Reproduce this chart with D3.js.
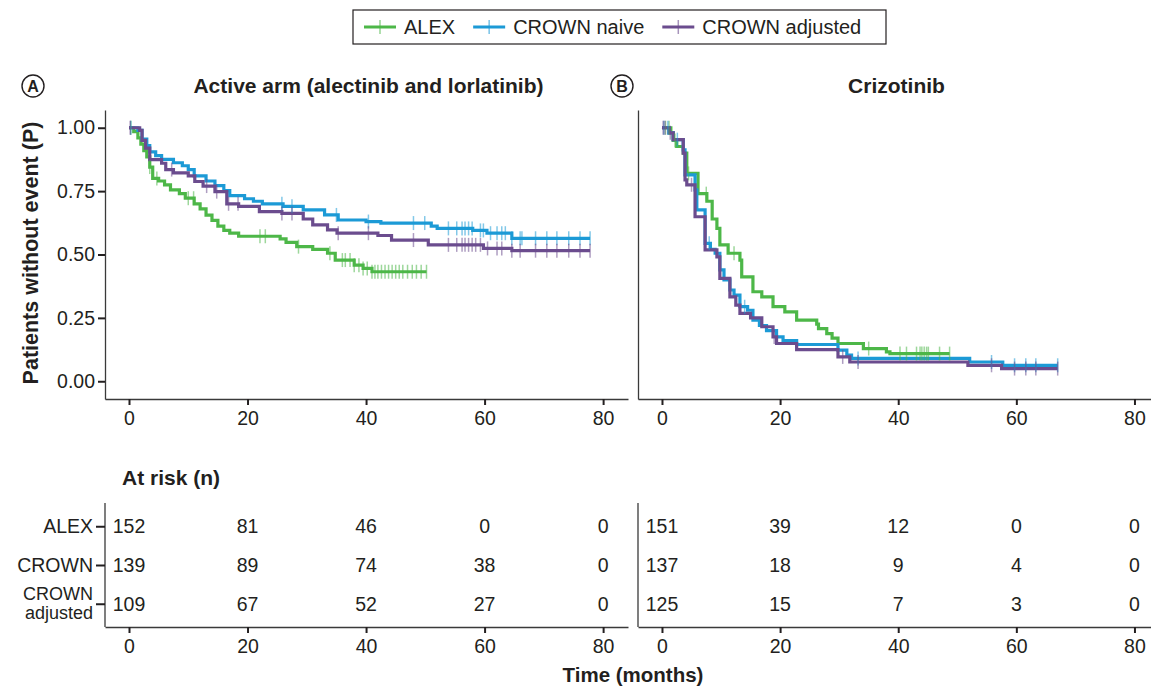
<!DOCTYPE html>
<html>
<head>
<meta charset="utf-8">
<script src="https://cdn.jsdelivr.net/npm/d3@7"></script>
<style>
  body { margin: 0; background: #fff; }
  text { font-family: "Liberation Sans", Arial, Helvetica, sans-serif; fill: #231f20; }
</style>
</head>
<body>
<div id="chart"></div>
<script>
// ---- data ----
const seriesNames = ["ALEX", "CROWN naive", "CROWN adjusted"];
const seriesColors = ["#4db748", "#1c9ad6", "#6b4c8e"];
const timeTicks = [0, 20, 40, 60, 80];
const survTicks = [0, 0.25, 0.5, 0.75, 1];
const riskRows = ["ALEX", "CROWN", "CROWN adjusted"];

// Kaplan-Meier steps [month, survival]; last pair marks end of follow-up
const activeAlex = [[0,1.00],[0.8,0.985],[1.5,0.96],[2,0.935],[2.5,0.91],[3,0.885],[3.5,0.845],[4,0.80],[5,0.79],[6,0.775],[7,0.755],[8.5,0.74],[9.5,0.722],[11,0.70],[12,0.68],[13,0.655],[14,0.635],[15,0.612],[16,0.595],[17,0.584],[18.5,0.572],[25.5,0.562],[26.5,0.548],[28.3,0.531],[31,0.52],[33.5,0.505],[34.8,0.478],[38,0.458],[39.5,0.445],[41,0.432],[50.2,0.432]];
const activeNaive = [[0,1.00],[1.5,0.99],[2.2,0.955],[3,0.93],[3.5,0.905],[4.5,0.89],[5.5,0.875],[7.5,0.862],[9,0.85],[10,0.835],[11,0.81],[13,0.79],[14.5,0.772],[16,0.752],[17,0.732],[19.5,0.72],[21,0.71],[22.5,0.70],[26,0.69],[29.4,0.676],[33,0.656],[35.3,0.636],[40,0.63],[42.5,0.624],[51,0.612],[52,0.603],[58,0.595],[60.4,0.584],[64.6,0.564],[77.8,0.564]];
const activeAdjusted = [[0,1.00],[1.8,0.99],[2.2,0.95],[2.8,0.92],[3.5,0.874],[5.5,0.86],[6.2,0.835],[7.5,0.822],[10,0.81],[11.1,0.788],[12.5,0.77],[14.5,0.748],[16.5,0.70],[18.5,0.69],[22,0.669],[25.8,0.662],[29.4,0.64],[31,0.617],[33.5,0.597],[35.1,0.584],[42,0.575],[44.3,0.557],[50.5,0.538],[59.8,0.524],[64.6,0.515],[77.8,0.515]];

const crizoAlex = [[0,1.00],[1.5,0.98],[1.9,0.95],[2.5,0.926],[3.6,0.90],[4.2,0.82],[6.1,0.74],[7.6,0.71],[8.5,0.64],[9.3,0.603],[9.8,0.538],[11.2,0.505],[13.2,0.478],[13.5,0.412],[15.4,0.353],[16.9,0.333],[18.8,0.294],[20.8,0.274],[22.8,0.241],[26.2,0.225],[26.5,0.208],[27.9,0.188],[28.8,0.17],[29.8,0.149],[34.1,0.129],[38,0.116],[38.6,0.109],[48.7,0.109]];
const crizoNaive = [[0,1.00],[1.2,0.98],[1.9,0.953],[3.6,0.913],[3.9,0.814],[5.6,0.755],[5.9,0.676],[7.3,0.544],[8.2,0.52],[9,0.505],[9.8,0.439],[10.5,0.40],[11.5,0.36],[12.2,0.34],[13.2,0.294],[14.5,0.28],[15.4,0.241],[16.5,0.22],[17.7,0.20],[19.4,0.175],[20.5,0.16],[22.8,0.145],[29.8,0.123],[31.3,0.103],[32.1,0.09],[52.1,0.076],[57.7,0.063],[67,0.063]];
const crizoAdjusted = [[0,1.00],[1.2,0.98],[1.9,0.953],[3.6,0.90],[3.9,0.794],[4.2,0.775],[5.6,0.649],[7.3,0.518],[9.3,0.491],[9.8,0.406],[11.5,0.333],[12.5,0.30],[13.2,0.268],[15,0.25],[16.9,0.215],[18.8,0.175],[19.4,0.149],[22.8,0.125],[29.8,0.096],[31.8,0.076],[51.8,0.063],[57.5,0.05],[67,0.05]];

// censoring times (months)
const activeAlexCensor = [0.3,3.5,4.7,10,10.9,22.1,23,28.6,33.9,36,36.5,37.3,38,38.8,39.5,40.2,41,41.5,42,42.6,43.2,43.8,44.4,45,45.6,46.2,47,47.8,48.5,49.3,50.2];
const activeNaiveCensor = [0.3,25.8,27.5,35,40.4,48,49.9,53.9,55.3,56.2,56.7,57.3,57.9,59.3,59.8,61,62.1,62.9,63.5,64.6,66,66.3,68.6,70.5,72.2,74.2,76.1,77.8];
const activeAdjustedCensor = [0.2,7.2,13.1,14.8,16.8,18.4,25.8,27.5,35.3,40.4,48,53.9,55.3,56.2,56.7,57.3,57.9,58.5,59.3,60.5,62.1,62.9,64.6,66,68.6,70.5,72.2,74.2,76.1,77.8];
const crizoAlexCensor = [0.6,1.2,2.2,4.5,7.5,12.2,35,40.3,41.4,43.1,43.7,44,44.4,44.8,45.1,47,48.7];
const crizoNaiveCensor = [0.3,1,2.6,8,14,33.2,55.8,59.7,61.6,63.3,67];
const crizoAdjustedCensor = [0.2,0.5,1.4,5,19,30.6,33.2,55.8,59.7,61.6,63.3,67];

// numbers at risk, rows follow riskRows, columns follow timeTicks
const riskActive = [[152,81,46,0,0],[139,89,74,38,0],[109,67,52,27,0]];
const riskCrizo = [[151,39,12,0,0],[137,18,9,4,0],[125,15,7,3,0]];

// ---- layout ----
const width = 1151, height = 689;
const plotTop = 110, plotBottom = 399;
const tableTop = 503, tableBottom = 627;
const boldSize = 21;

const panels = [
  {label: "A", badgeX: 33, title: "Active arm (alectinib and lorlatinib)",
   range: [105, 628], domain: [-4.05, 84.2],
   curves: [activeAlex, activeNaive, activeAdjusted],
   censors: [activeAlexCensor, activeNaiveCensor, activeAdjustedCensor],
   risk: riskActive, rowLabels: true},
  {label: "B", badgeX: 622, title: "Crizotinib",
   range: [638, 1151], domain: [-4.06, 82.8],
   curves: [crizoAlex, crizoNaive, crizoAdjusted],
   censors: [crizoAlexCensor, crizoNaiveCensor, crizoAdjustedCensor],
   risk: riskCrizo, rowLabels: false}
];

const svg = d3.select("#chart").append("svg")
  .attr("width", width)
  .attr("height", height);

svg.append("rect").attr("width", width).attr("height", height).attr("fill", "#fff");

const y = d3.scaleLinear().domain([-0.07, 1.07]).range([plotBottom, plotTop]);
const yRisk = d3.scalePoint().domain(riskRows).range([tableTop, tableBottom]).padding(0.6);

function survivalAt(steps, t){
  let s = steps[0][1];
  for (const p of steps){
    if (p[0] <= t) s = p[1]; else break;
  }
  return s;
}

function styleAxis(g){
  g.selectAll(".domain").attr("stroke", "#3a3a3a").attr("stroke-width", 1.3);
  g.selectAll(".tick line").attr("stroke", "#231f20").attr("stroke-width", 2);
  g.selectAll(".tick text").attr("font-size", 19.5).attr("fill", "#231f20")
    .attr("font-family", "'Liberation Sans', Arial, sans-serif");
}

panels.forEach((p, pi) => {
  const x = d3.scaleLinear().domain(p.domain).range(p.range);

  // badge + title
  const badge = svg.append("g").attr("transform", `translate(${p.badgeX},86)`);
  badge.append("circle").attr("r", 11).attr("fill", "none").attr("stroke", "#231f20").attr("stroke-width", 1.4);
  badge.append("text").attr("text-anchor", "middle").attr("dy", "0.37em")
    .attr("font-size", 16).attr("font-weight", "bold").text(p.label);

  svg.append("text")
    .attr("x", (p.range[0] + p.range[1]) / 2 + 2)
    .attr("y", 85).attr("dy", "0.36em")
    .attr("text-anchor", "middle")
    .attr("font-size", boldSize).attr("font-weight", "bold")
    .text(p.title);

  // survival axes
  const gx = svg.append("g").attr("transform", `translate(0,${plotBottom})`)
    .call(d3.axisBottom(x).tickValues(timeTicks).tickSize(6).tickSizeOuter(0).tickPadding(6));
  styleAxis(gx);

  const yAxis = d3.axisLeft(y).tickValues(survTicks).tickSize(7).tickSizeOuter(0).tickPadding(3)
    .tickFormat(d3.format(".2f"));
  if (pi > 0) yAxis.tickValues([]);
  const gy = svg.append("g").attr("transform", `translate(${p.range[0]},0)`).call(yAxis);
  styleAxis(gy);

  // curves
  const line = d3.line().x(d => x(d[0])).y(d => y(d[1])).curve(d3.curveStepAfter);
  const plot = svg.append("g");

  p.curves.forEach((steps, i) => {
    plot.append("path")
      .datum(steps)
      .attr("fill", "none")
      .attr("stroke", seriesColors[i])
      .attr("stroke-width", 3.2)
      .attr("d", line);
  });

  p.censors.forEach((times, i) => {
    plot.selectAll(null)
      .data(times)
      .enter().append("line")
      .attr("x1", d => x(d)).attr("x2", d => x(d))
      .attr("y1", d => y(survivalAt(p.curves[i], d)) - 7)
      .attr("y2", d => y(survivalAt(p.curves[i], d)) + 7)
      .attr("stroke", seriesColors[i])
      .attr("stroke-opacity", 0.55)
      .attr("stroke-width", 1.5);
  });

  // at-risk table
  const tx = svg.append("g").attr("transform", `translate(0,${tableBottom})`)
    .call(d3.axisBottom(x).tickValues(timeTicks).tickSize(6).tickSizeOuter(0).tickPadding(6));
  styleAxis(tx);

  const ty = svg.append("g").attr("transform", `translate(${p.range[0]},0)`)
    .call(d3.axisLeft(yRisk).tickSize(p.rowLabels ? 9 : 0).tickSizeOuter(0).tickFormat(""));
  styleAxis(ty);
  ty.selectAll(".domain").attr("d", `M0,${tableTop}V${tableBottom}`);

  if (p.rowLabels){
    riskRows.forEach(r => {
      const words = r.split(" ");
      const t = svg.append("text")
        .attr("x", p.range[0] - 12)
        .attr("text-anchor", "end")
        .attr("font-size", words.length > 1 ? 18 : 19.5);
      words.forEach((w, k) => {
        t.append("tspan")
          .attr("x", p.range[0] - 12)
          .attr("y", yRisk(r) + (k - (words.length - 1) / 2) * 19)
          .attr("dy", "0.34em")
          .text(w);
      });
    });
  }

  p.risk.forEach((row, ri) => {
    svg.selectAll(null)
      .data(row)
      .enter().append("text")
      .attr("x", (d, j) => x(timeTicks[j]))
      .attr("y", yRisk(riskRows[ri]))
      .attr("dy", "0.36em")
      .attr("text-anchor", "middle")
      .attr("font-size", 19.5)
      .text(d => d);
  });
});

// axis titles
svg.append("text")
  .attr("transform", "translate(30,253) rotate(-90)")
  .attr("text-anchor", "middle").attr("dy", "0.36em")
  .attr("font-size", boldSize + 0.5).attr("font-weight", "bold")
  .text("Patients without event (P)");

svg.append("text")
  .attr("x", 122).attr("y", 477).attr("dy", "0.36em")
  .attr("font-size", boldSize).attr("font-weight", "bold")
  .text("At risk (n)");

svg.append("text")
  .attr("x", 633).attr("y", 675).attr("dy", "0.36em")
  .attr("text-anchor", "middle")
  .attr("font-size", boldSize - 0.5).attr("font-weight", "bold")
  .text("Time (months)");

// legend
const legend = svg.append("g");
legend.append("rect")
  .attr("x", 353).attr("y", 10).attr("width", 533).attr("height", 34)
  .attr("fill", "#fff").attr("stroke", "#231f20").attr("stroke-width", 1.2);

let lx = 364;
seriesNames.forEach((name, i) => {
  const item = legend.append("g").attr("transform", `translate(${lx},27)`);
  item.append("line").attr("x1", 0).attr("x2", 32).attr("stroke", seriesColors[i]).attr("stroke-width", 3);
  item.append("line").attr("x1", 16).attr("x2", 16).attr("y1", -7).attr("y2", 7)
    .attr("stroke", seriesColors[i]).attr("stroke-opacity", 0.6).attr("stroke-width", 1.5);
  const t = item.append("text").attr("x", 40).attr("dy", "0.36em").attr("font-size", 20).text(name);
  lx += 40 + t.node().getComputedTextLength() + 18;
});
</script>
</body>
</html>
